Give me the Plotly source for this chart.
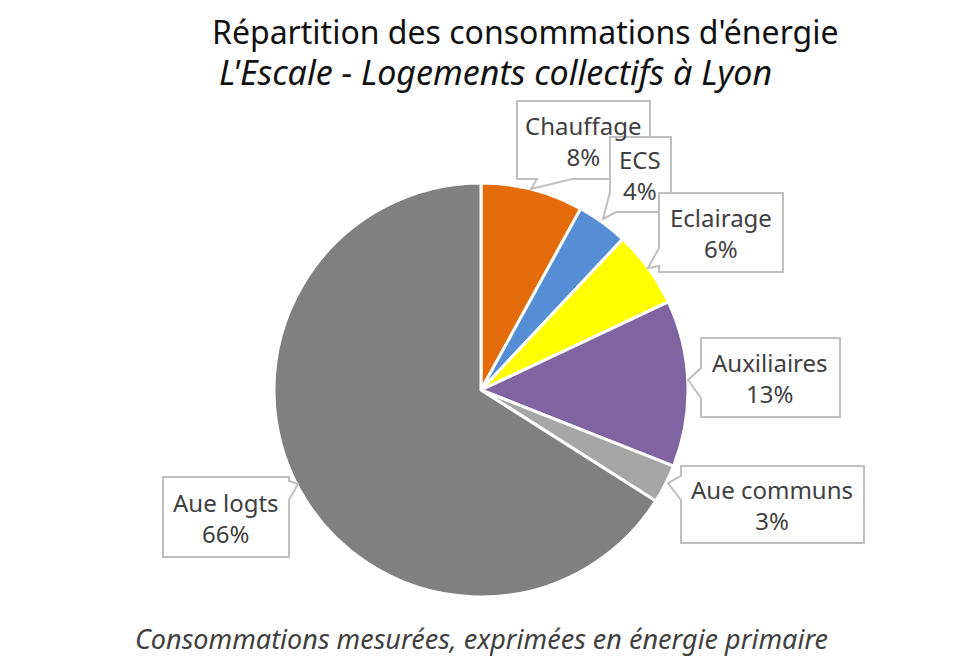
import plotly.graph_objects as go

W, H = 959, 661
OFF = 8  # page body margin compensation

# ---- data ----
categories = ["Chauffage", "ECS", "Eclairage", "Auxiliaires", "Aue communs", "Aue logts"]
values = [8, 4, 6, 13, 3, 66]
colors = ["#E46C0A", "#558ED5", "#FFFF00", "#8064A2", "#A6A6A6", "#808080"]

title = "Répartition des consommations d'énergie"
subtitle = "L'Escale - Logements collectifs à Lyon"
caption = "Consommations mesurées, exprimées en énergie primaire"

# ---- layout helpers (screen pixel -> paper) ----
def px(x):
    return (x - OFF) / W

def py(y):
    return 1 - (y - OFF) / H

# pie geometry (screen pixels)
cx, cy, r = 481, 390, 207

fig = go.Figure(go.Pie(
    labels=categories,
    values=values,
    sort=False,
    direction="clockwise",
    rotation=0,
    marker=dict(colors=colors, line=dict(color="white", width=3)),
    textinfo="none",
    hoverinfo="label+percent",
    domain=dict(x=[px(cx - r), px(cx + r)], y=[py(cy + r), py(cy - r)]),
    showlegend=False,
))

# callout outlines (box + pointer), in screen pixels
callouts = {
    "Chauffage": [(517, 101), (650, 101), (650, 179), (572, 179), (531, 189), (537, 179), (517, 179)],
    "ECS": [(610, 137), (671, 137), (671, 212), (616, 212), (603, 219), (610, 192)],
    "Eclairage": [(659, 193), (783, 193), (783, 272), (659, 272), (659, 266), (648, 268), (659, 248)],
    "Auxiliaires": [(701, 338), (840, 338), (840, 417), (701, 417), (701, 398), (688, 380), (701, 368)],
    "Aue communs": [(681, 466), (864, 466), (864, 543), (681, 543), (681, 500), (668, 483), (681, 476)],
    "Aue logts": [(163, 477), (289, 477), (289, 481), (298, 484), (289, 500), (289, 557), (163, 557)],
}
centers = {
    "Chauffage": (583, 141),
    "ECS": (640, 175),
    "Eclairage": (721, 233),
    "Auxiliaires": (770, 378),
    "Aue communs": (772, 505),
    "Aue logts": (226, 518),
}

shapes = []
annotations = []
total = sum(values)
for cat, val in zip(categories, values):
    pts = callouts[cat]
    path = "M " + " L ".join(f"{px(x):.5f},{py(y):.5f}" for x, y in pts) + " Z"
    shapes.append(dict(type="path", xref="paper", yref="paper", path=path,
                       fillcolor="white", line=dict(color="#BFBFBF", width=2), layer="above"))
    x, y = centers[cat]
    annotations.append(dict(
        x=px(x), y=py(y), xref="paper", yref="paper", xanchor="center", yanchor="middle",
        text=f"{cat}<br>{round(100 * val / total)}%", showarrow=False,
        font=dict(family="Noto Sans", size=24, color="#404040"),
    ))

annotations += [
    dict(x=px(525), y=1, xref="paper", yref="paper", xanchor="center", yanchor="top",
         text=title, showarrow=False, font=dict(family="Noto Sans", size=32, color="#111111")),
    dict(x=px(495), y=py(72), xref="paper", yref="paper", xanchor="center", yanchor="middle",
         text=f"<i>{subtitle}</i>", showarrow=False, font=dict(family="Noto Sans", size=34, color="#111111")),
    dict(x=px(481), y=py(638), xref="paper", yref="paper", xanchor="center", yanchor="middle",
         text=f"<i>{caption}</i>", showarrow=False, font=dict(family="Noto Sans", size=27, color="#404040")),
]

fig.update_layout(
    width=W, height=H,
    margin=dict(l=0, r=0, t=0, b=0),
    paper_bgcolor="white", plot_bgcolor="white",
    shapes=shapes, annotations=annotations,
)

fig.write_html("out.html")
